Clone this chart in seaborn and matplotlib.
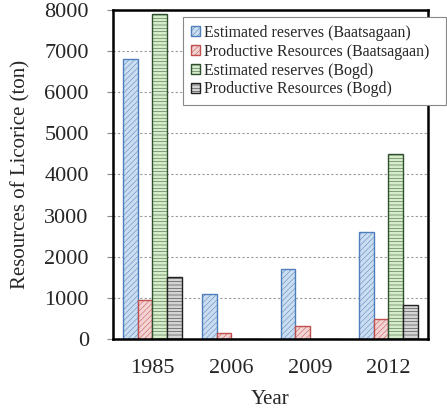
import pandas as pd
import seaborn as sns
import matplotlib.pyplot as plt

# Datos
years = ["1985", "2006", "2009", "2012"]
est_baatsagaan = [6800, 1100, 1700, 2600]
prod_baatsagaan = [950, 150, 320, 480]
est_bogd = [7900, 0, 0, 4500]
prod_bogd = [1500, 0, 0, 820]
series = ["Estimated reserves (Baatsagaan)", "Productive Resources (Baatsagaan)",
          "Estimated reserves (Bogd)", "Productive Resources (Bogd)"]

df = pd.DataFrame({
    "Year": years * 4,
    "Value": est_baatsagaan + prod_baatsagaan + est_bogd + prod_bogd,
    "Serie": [s for s in series for _ in years],
})

fills = ["#cbddf1", "#f3d3d3", "#d5ecc9", "#d4d4d4"]
edges = ["#4f7fba", "#c0504d", "#2f4f2f", "#222222"]
hatches = ["//////", "//////", "-----", "-----"]

sns.set_style("white")
plt.rcParams["font.family"] = ["Liberation Serif", "DejaVu Serif"]
plt.rcParams["hatch.linewidth"] = 0.35

fig = plt.figure(figsize=(4.47, 4.11), dpi=100)
ax = fig.add_axes([0.253, 0.175, 0.704, 0.801])

sns.barplot(data=df, x="Year", y="Value", hue="Serie", hue_order=series,
            order=years, width=0.74, palette=fills, ax=ax, legend=False,
            edgecolor="black", linewidth=1)

for cont, fc, ec, h in zip(ax.containers, fills, edges, hatches):
    for bar in cont:
        bar.set_facecolor(fc)
        bar.set_edgecolor(ec)
        bar.set_hatch(h)
        bar.set_linewidth(1)

ax.set_ylim(0, 8000)
ax.set_yticks(range(0, 8001, 1000))
ax.yaxis.grid(True, linestyle=(0, (2, 2)), color="#999999", linewidth=0.8)
ax.set_axisbelow(True)
ax.tick_params(axis="y", direction="out", length=4.5, width=0.8, color="#888888",
               left=True, labelsize=16, pad=13)
ax.tick_params(axis="x", length=0, labelsize=16, pad=14)
for sp in ax.spines.values():
    sp.set_color("black")
    sp.set_linewidth(1.8)
ax.set_xlabel("Year", fontsize=15, labelpad=9)
ax.set_ylabel("Resources of Licorice (ton)", fontsize=15, labelpad=10)

# leyenda en caja ancha, como en el original
handles = [c.patches[0] for c in ax.containers]
leg = ax.legend(handles, series, loc="upper left",
                bbox_to_anchor=(183 / 447, 1 - 21 / 411, 263 / 447, 0.01),
                bbox_transform=fig.transFigure, mode="expand", fontsize=11.4,
                frameon=True, fancybox=False, edgecolor="#888888", framealpha=1,
                handlelength=0.6, handleheight=0.6, handletextpad=0.2,
                labelspacing=0.18, borderpad=0.5, borderaxespad=0)
leg.get_frame().set_linewidth(0.8)

fig.savefig("out.png", dpi=100)
